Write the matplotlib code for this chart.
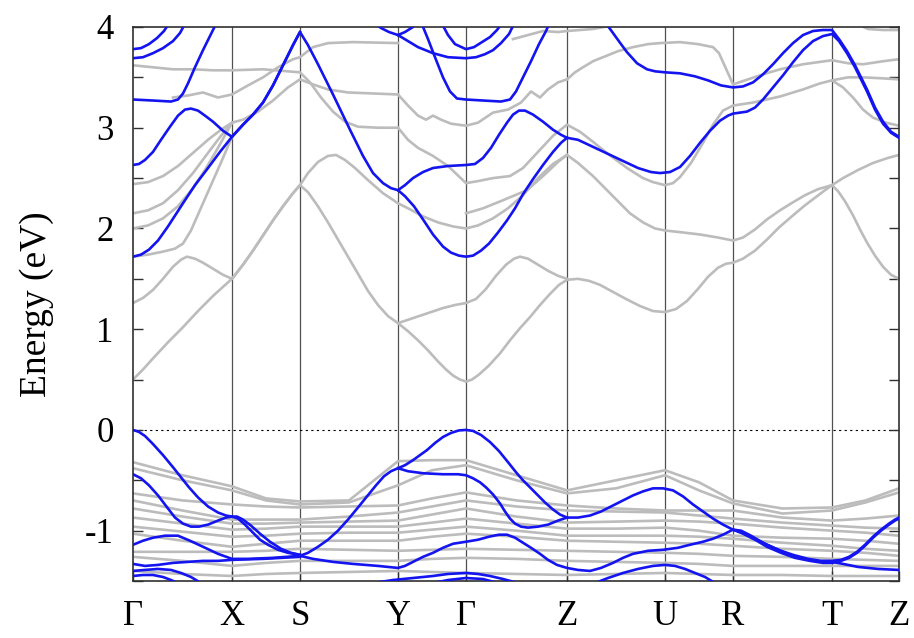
import numpy as np
import matplotlib
matplotlib.use("Agg")
import matplotlib.pyplot as plt

plt.rcParams["font.family"] = ["Liberation Serif", "DejaVu Serif"]
plt.rcParams["axes.unicode_minus"] = False

# high-symmetry points along the path (cumulative k-distance)
kpath_labels = ["Γ", "X", "S", "Y", "Γ", "Z", "U", "R", "T", "Z"]
kpath_ticks = [0, 99, 167, 265, 333, 434, 532, 600, 699, 766]

# highlighted bands, as (k, E) pairs
blue_cond = [
    [(0, 1.72), (8, 1.74), (16, 1.79), (25, 1.88), (35, 2.02), (50, 2.25), (62, 2.43), (75, 2.6),
     (87, 2.76), (99, 2.91), (110, 3.03), (120, 3.13), (130, 3.25), (140, 3.42), (150, 3.62),
     (160, 3.82), (167, 3.95), (175, 3.82), (185, 3.63), (200, 3.33), (217, 2.98), (230, 2.72),
     (240, 2.55), (250, 2.45), (258, 2.4), (265, 2.38), (272, 2.32), (281, 2.22), (290, 2.09),
     (300, 1.94), (310, 1.82), (318, 1.76), (326, 1.73), (333, 1.72), (340, 1.73), (348, 1.78),
     (356, 1.85), (365, 1.96), (374, 2.08), (382, 2.2), (390, 2.34), (400, 2.49), (410, 2.63),
     (420, 2.76), (428, 2.85), (434, 2.9)],
    [(0, 2.63), (6, 2.64), (12, 2.68), (20, 2.76), (28, 2.88), (37, 3.01), (45, 3.12), (52, 3.18),
     (58, 3.19), (65, 3.17), (72, 3.12), (80, 3.06), (90, 2.97), (99, 2.91), (110, 3.03),
     (120, 3.13), (130, 3.25), (140, 3.42), (150, 3.62), (160, 3.82), (167, 3.95)],
    [(0, 3.28), (20, 3.27), (38, 3.26), (45, 3.28), (50, 3.34), (55, 3.44), (62, 3.6), (70, 3.77),
     (78, 3.93), (84, 4.05)],
    [(0, 3.78), (8, 3.79), (16, 3.83), (24, 3.89), (31, 3.96), (37, 4.05)],
    [(0, 3.69), (10, 3.7), (20, 3.74), (30, 3.79), (40, 3.86), (47, 3.94), (53, 4.05)],
    [(265, 2.38), (272, 2.43), (280, 2.5), (290, 2.56), (300, 2.6), (315, 2.62), (333, 2.63),
     (342, 2.64), (350, 2.7), (358, 2.8), (366, 2.93), (374, 3.05), (380, 3.13), (386, 3.17),
     (392, 3.17), (400, 3.13), (410, 3.06), (420, 2.98), (428, 2.93), (434, 2.9)],
    [(288, 4.05), (295, 3.88), (302, 3.7), (310, 3.5), (317, 3.36), (324, 3.29), (333, 3.28),
     (350, 3.27), (368, 3.26), (377, 3.28), (383, 3.36), (390, 3.5), (398, 3.66), (406, 3.83),
     (413, 3.96), (417, 4.05)],
    [(240, 4.05), (248, 3.99), (256, 3.95), (265, 3.92), (275, 3.86), (285, 3.8), (300, 3.74),
     (315, 3.7), (333, 3.69), (343, 3.7), (352, 3.73), (360, 3.77), (368, 3.84), (376, 3.93),
     (382, 4.05)],
    [(308, 4.05), (315, 3.92), (322, 3.83), (333, 3.78), (341, 3.8), (349, 3.85), (357, 3.9),
     (364, 3.97), (370, 4.05)],
    [(265, 3.92), (272, 3.95), (280, 4.0), (285, 4.05)],
    [(434, 2.9), (445, 2.88), (460, 2.81), (475, 2.74), (490, 2.67), (505, 2.6), (518, 2.56),
     (527, 2.55), (537, 2.56), (547, 2.61), (557, 2.72), (567, 2.85), (577, 2.97), (587, 3.07),
     (595, 3.12), (600, 3.14), (607, 3.15), (614, 3.16), (622, 3.2), (630, 3.28), (640, 3.4),
     (650, 3.52), (660, 3.65), (670, 3.77), (680, 3.86), (690, 3.91), (699, 3.93), (706, 3.86),
     (714, 3.74), (722, 3.6), (734, 3.36), (742, 3.18), (750, 3.04), (758, 2.95), (766, 2.9)],
    [(472, 4.05), (480, 3.94), (488, 3.83), (494, 3.75), (504, 3.64), (514, 3.58), (522, 3.56),
     (532, 3.55), (547, 3.54), (562, 3.51), (575, 3.47), (588, 3.42), (600, 3.4), (610, 3.41),
     (620, 3.45), (630, 3.53), (640, 3.63), (650, 3.74), (660, 3.84), (670, 3.92), (680, 3.96),
     (690, 3.97), (699, 3.97), (706, 3.88), (714, 3.76), (722, 3.62), (734, 3.38), (742, 3.2),
     (750, 3.06), (758, 2.96), (766, 2.91)],
]

blue_val = [
    [(0, 0.0), (6, -0.02), (12, -0.06), (20, -0.14), (30, -0.25), (40, -0.37), (48, -0.47),
     (56, -0.57), (65, -0.67), (75, -0.76), (85, -0.82), (93, -0.85), (99, -0.86), (105, -0.88),
     (112, -0.94), (120, -1.02), (127, -1.09), (135, -1.14), (145, -1.19), (155, -1.22),
     (167, -1.24)],
    [(0, -0.44), (8, -0.48), (16, -0.55), (25, -0.65), (35, -0.78), (42, -0.87), (50, -0.93),
     (58, -0.96), (66, -0.96), (75, -0.94), (85, -0.9), (93, -0.87), (99, -0.86), (104, -0.86),
     (110, -0.89), (118, -0.95), (127, -1.03), (137, -1.11), (148, -1.18), (158, -1.22),
     (167, -1.24)],
    [(0, -1.14), (10, -1.1), (20, -1.07), (32, -1.05), (45, -1.05), (57, -1.1), (70, -1.16),
     (85, -1.23), (99, -1.28), (115, -1.28), (140, -1.27), (167, -1.25), (175, -1.22),
     (185, -1.16), (195, -1.09), (205, -1.0), (215, -0.89), (225, -0.77), (234, -0.66),
     (243, -0.55), (251, -0.46), (258, -0.41), (265, -0.38), (272, -0.35), (280, -0.3),
     (287, -0.25), (294, -0.2), (302, -0.13), (310, -0.07), (318, -0.03), (326, -0.005),
     (333, 0.0), (340, -0.01), (348, -0.05), (357, -0.12), (366, -0.21), (375, -0.32),
     (383, -0.42), (390, -0.5), (398, -0.58), (405, -0.65), (412, -0.72), (420, -0.79),
     (427, -0.84), (434, -0.87), (445, -0.87), (457, -0.85), (468, -0.81), (480, -0.75),
     (490, -0.7), (500, -0.65), (510, -0.61), (520, -0.58), (530, -0.58), (540, -0.6),
     (550, -0.66), (560, -0.74), (570, -0.81), (580, -0.88), (590, -0.94), (600, -0.99),
     (610, -1.02), (620, -1.07), (634, -1.14), (648, -1.2), (660, -1.24), (675, -1.28),
     (688, -1.3), (699, -1.3), (708, -1.29), (716, -1.26), (724, -1.21), (732, -1.14),
     (740, -1.06), (748, -0.99), (756, -0.93), (762, -0.89), (766, -0.87)],
    [(167, -1.25), (180, -1.28), (200, -1.31), (220, -1.33), (245, -1.35), (265, -1.37),
     (272, -1.35), (280, -1.31), (290, -1.26), (300, -1.22), (310, -1.17), (320, -1.13),
     (333, -1.11), (345, -1.09), (356, -1.06), (366, -1.04), (374, -1.04), (382, -1.07),
     (390, -1.12), (398, -1.17), (407, -1.23), (415, -1.29), (424, -1.34), (434, -1.37),
     (445, -1.39), (457, -1.4), (468, -1.37), (480, -1.32), (490, -1.27), (500, -1.23),
     (515, -1.2), (530, -1.19), (545, -1.17), (557, -1.14), (570, -1.11), (580, -1.08),
     (590, -1.04), (600, -0.99), (608, -1.0), (618, -1.05), (630, -1.12), (645, -1.19),
     (660, -1.25), (675, -1.29), (690, -1.31), (699, -1.31), (710, -1.33), (725, -1.36),
     (745, -1.38), (766, -1.39)],
    [(265, -0.38), (275, -0.41), (290, -0.43), (310, -0.44), (325, -0.44), (333, -0.45),
     (340, -0.48), (347, -0.52), (353, -0.57), (360, -0.64), (367, -0.73), (372, -0.81),
     (377, -0.88), (382, -0.93), (388, -0.96), (395, -0.97), (405, -0.96), (415, -0.94),
     (425, -0.9), (434, -0.87)],
    [(600, -0.99), (610, -1.03), (622, -1.09), (634, -1.16), (648, -1.22), (662, -1.27),
     (677, -1.3), (690, -1.32), (699, -1.32), (708, -1.3), (716, -1.27), (724, -1.22),
     (732, -1.15), (740, -1.07), (748, -1.0), (756, -0.94), (762, -0.9), (766, -0.88)],
    [(0, -1.33), (12, -1.35), (25, -1.34), (40, -1.32), (55, -1.31), (70, -1.3), (85, -1.3),
     (99, -1.29), (130, -1.28), (167, -1.26)],
    [(0, -1.4), (12, -1.39), (25, -1.38), (38, -1.39), (48, -1.42), (58, -1.46), (68, -1.52)],
    [(0, -1.45), (10, -1.44), (20, -1.44), (30, -1.46), (38, -1.49), (45, -1.52)],
    [(240, -1.52), (260, -1.49), (280, -1.47), (300, -1.45), (315, -1.43), (333, -1.42),
     (345, -1.43), (357, -1.45), (370, -1.48), (385, -1.52)],
    [(300, -1.52), (315, -1.49), (333, -1.47), (350, -1.48), (365, -1.52)],
    [(462, -1.52), (475, -1.47), (490, -1.42), (505, -1.38), (520, -1.35), (532, -1.34),
     (542, -1.35), (552, -1.38), (562, -1.42), (572, -1.46), (582, -1.52)],
]

gray_cond = [
    [(0, 0.5), (10, 0.6), (20, 0.71), (35, 0.87), (50, 1.02), (65, 1.18), (80, 1.33), (90, 1.42),
     (99, 1.5), (110, 1.64), (120, 1.78), (130, 1.93), (140, 2.08), (150, 2.22), (160, 2.35),
     (167, 2.43), (175, 2.36), (185, 2.22), (195, 2.06), (205, 1.89), (215, 1.72), (225, 1.55),
     (235, 1.38), (245, 1.24), (255, 1.13), (265, 1.06), (275, 0.98), (285, 0.89), (295, 0.79),
     (305, 0.68), (313, 0.6), (320, 0.54), (327, 0.5), (333, 0.48), (339, 0.5), (346, 0.55),
     (356, 0.64), (367, 0.76), (377, 0.89), (387, 1.01), (397, 1.12), (407, 1.24), (417, 1.35),
     (426, 1.44), (434, 1.49), (445, 1.5), (456, 1.48), (467, 1.44), (480, 1.37), (493, 1.3),
     (507, 1.23), (520, 1.18), (532, 1.17), (543, 1.2), (554, 1.28), (565, 1.4), (575, 1.52),
     (585, 1.61), (593, 1.65), (600, 1.66), (610, 1.7), (622, 1.78), (634, 1.89), (646, 2.01),
     (660, 2.13), (672, 2.23), (684, 2.32), (692, 2.38), (699, 2.43), (705, 2.37), (712, 2.27),
     (720, 2.13), (727, 1.99), (734, 1.86), (742, 1.73), (750, 1.62), (758, 1.54), (766, 1.5)],
    [(0, 1.26), (10, 1.31), (20, 1.39), (30, 1.5), (40, 1.62), (48, 1.69), (54, 1.72), (62, 1.7),
     (70, 1.66), (80, 1.6), (90, 1.54), (99, 1.5), (110, 1.64), (120, 1.78), (130, 1.93),
     (140, 2.08), (150, 2.22), (160, 2.35), (167, 2.43), (175, 2.55), (185, 2.66), (195, 2.72),
     (203, 2.73), (212, 2.68), (222, 2.6), (235, 2.48), (250, 2.35), (265, 2.25), (275, 2.2),
     (290, 2.12), (305, 2.06), (320, 2.02), (333, 2.0), (345, 2.03), (360, 2.1), (375, 2.2),
     (390, 2.33), (405, 2.5), (420, 2.64), (434, 2.73), (445, 2.65), (460, 2.52), (472, 2.4),
     (484, 2.28), (497, 2.15), (510, 2.06), (522, 2.0), (532, 1.98), (550, 1.96), (567, 1.94),
     (585, 1.91), (600, 1.88), (610, 1.91), (622, 1.99), (634, 2.09), (647, 2.18), (660, 2.26),
     (672, 2.33), (685, 2.39), (699, 2.43), (710, 2.5), (725, 2.58), (740, 2.65), (755, 2.7),
     (766, 2.73)],
    [(265, 1.06), (280, 1.11), (295, 1.16), (310, 1.21), (322, 1.24), (333, 1.26), (343, 1.3),
     (353, 1.4), (363, 1.53), (373, 1.64), (381, 1.7), (387, 1.72), (395, 1.7), (405, 1.64),
     (415, 1.58), (425, 1.53), (434, 1.5)],
    [(0, 1.72), (15, 1.74), (30, 1.77), (42, 1.8), (50, 1.85), (58, 1.98), (66, 2.16),
     (74, 2.34), (82, 2.52), (90, 2.7), (99, 2.91)],
    [(0, 2.0), (15, 2.03), (30, 2.1), (45, 2.22), (60, 2.4), (72, 2.58), (85, 2.8), (99, 3.05),
     (110, 3.08), (125, 3.16), (140, 3.27), (155, 3.4), (167, 3.48), (180, 3.43), (195, 3.38),
     (215, 3.35), (240, 3.34), (265, 3.33)],
    [(0, 2.15), (15, 2.18), (30, 2.25), (45, 2.38), (60, 2.55), (75, 2.75), (88, 2.92),
     (99, 3.05)],
    [(0, 2.44), (15, 2.46), (30, 2.52), (45, 2.62), (60, 2.75), (75, 2.88), (88, 2.98),
     (99, 3.05)],
    [(0, 3.62), (20, 3.6), (40, 3.58), (60, 3.58), (80, 3.57), (99, 3.57), (130, 3.58),
     (167, 3.55), (177, 3.45), (188, 3.3), (200, 3.16), (212, 3.06), (225, 3.01), (245, 3.0),
     (265, 3.0)],
    [(40, 3.3), (55, 3.32), (70, 3.35), (85, 3.3), (99, 3.33), (115, 3.42), (130, 3.5),
     (145, 3.6), (160, 3.68), (167, 3.7), (180, 3.8), (195, 3.84), (220, 3.85), (265, 3.84)],
    [(265, 3.33), (275, 3.22), (285, 3.12), (293, 3.08), (300, 3.12), (308, 3.08), (318, 3.04),
     (333, 3.02), (345, 3.05), (360, 3.15), (375, 3.18), (388, 3.25), (398, 3.36), (407, 3.3),
     (415, 3.38), (425, 3.45), (434, 3.48)],
    [(265, 3.0), (275, 2.88), (285, 2.8), (300, 2.72), (315, 2.62), (333, 2.45), (345, 2.47),
     (360, 2.5), (377, 2.52), (390, 2.6), (405, 2.76), (420, 2.92), (434, 3.03), (447, 2.96),
     (460, 2.86), (475, 2.74), (494, 2.6), (510, 2.5), (520, 2.46), (532, 2.43), (540, 2.45),
     (547, 2.51), (558, 2.65), (570, 2.85), (580, 3.03), (590, 3.17), (600, 3.22), (620, 3.25),
     (647, 3.31), (670, 3.38), (687, 3.44), (699, 3.47), (710, 3.4), (720, 3.3), (730, 3.18),
     (740, 3.1), (753, 3.05), (766, 3.02)],
    [(333, 2.15), (350, 2.2), (370, 2.28), (394, 2.38), (410, 2.52), (425, 2.66), (434, 2.73)],
    [(434, 3.48), (442, 3.55), (450, 3.6), (460, 3.66), (470, 3.7), (485, 3.76), (500, 3.8),
     (515, 3.83), (527, 3.84), (547, 3.85), (565, 3.83), (580, 3.8), (586, 3.74), (591, 3.63),
     (596, 3.52), (600, 3.43), (615, 3.48), (630, 3.53), (647, 3.58), (670, 3.63), (699, 3.67),
     (715, 3.64), (730, 3.63), (750, 3.66), (766, 3.68)],
    [(699, 3.47), (715, 3.5), (730, 3.5), (750, 3.49), (766, 3.48)],
    [(380, 3.88), (395, 3.92), (410, 3.96), (425, 3.95), (434, 3.96), (460, 3.98), (500, 4.05)],
    [(720, 4.05), (735, 3.98), (750, 3.97), (766, 3.97)],
]

# mostly flat valence bands: energies at the high-symmetry points and segment midpoints
gray_val = [
    [-0.32, -0.45, -0.56, -0.68, -0.71, -0.7, -0.31, -0.3, -0.3, -0.45, -0.6, -0.5, -0.4, -0.52, -0.7, -0.78, -0.77, -0.7, -0.58],
    [-0.38, -0.5, -0.6, -0.7, -0.74, -0.72, -0.55, -0.4, -0.35, -0.5, -0.63, -0.58, -0.45, -0.6, -0.73, -0.83, -0.8, -0.72, -0.62],
    [-0.63, -0.7, -0.74, -0.76, -0.77, -0.76, -0.75, -0.68, -0.62, -0.7, -0.75, -0.78, -0.8, -0.8, -0.8, -0.87, -0.9, -0.88, -0.85],
    [-0.7, -0.8, -0.89, -0.89, -0.89, -0.86, -0.82, -0.76, -0.7, -0.76, -0.8, -0.81, -0.82, -0.85, -0.88, -0.92, -0.95, -0.97, -0.98],
    [-0.78, -0.86, -0.93, -0.93, -0.92, -0.91, -0.9, -0.84, -0.78, -0.86, -0.92, -0.91, -0.9, -0.91, -0.93, -0.97, -1.0, -1.02, -1.05],
    [-0.87, -0.93, -0.99, -0.98, -0.96, -0.96, -0.96, -0.92, -0.88, -0.93, -0.98, -0.98, -0.97, -1.0, -1.05, -1.07, -1.08, -1.1, -1.13],
    [-0.96, -1.01, -1.06, -1.05, -1.03, -1.02, -1.02, -0.99, -0.96, -1.0, -1.05, -1.05, -1.05, -1.06, -1.08, -1.12, -1.15, -1.18, -1.2],
    [-1.03, -1.1, -1.16, -1.13, -1.1, -1.1, -1.1, -1.06, -1.03, -1.06, -1.1, -1.11, -1.12, -1.13, -1.15, -1.18, -1.2, -1.22, -1.25],
    [-1.21, -1.21, -1.21, -1.2, -1.18, -1.19, -1.2, -1.19, -1.18, -1.19, -1.2, -1.21, -1.22, -1.23, -1.25, -1.26, -1.28, -1.29, -1.3],
    [-1.26, -1.3, -1.35, -1.32, -1.3, -1.3, -1.3, -1.28, -1.27, -1.28, -1.3, -1.31, -1.32, -1.33, -1.35, -1.35, -1.35, -1.35, -1.35],
    [-1.4, -1.43, -1.45, -1.43, -1.42, -1.41, -1.4, -1.41, -1.42, -1.43, -1.44, -1.43, -1.42, -1.43, -1.44, -1.44, -1.45, -1.45, -1.45],
]

grid_k = []
for a, b in zip(kpath_ticks[:-1], kpath_ticks[1:]):
    grid_k += [a, (a + b) / 2]
grid_k.append(kpath_ticks[-1])

GRAY = "#bcbcbc"
BLUE = "#1414f0"

fig = plt.figure(figsize=(9.14, 6.38), dpi=100)
ax = fig.add_axes([0.1455, 0.0893, 0.8381, 0.8684])

for band in gray_cond:
    k, e = zip(*band)
    ax.plot(k, e, color=GRAY, lw=1.9, solid_joinstyle="round", zorder=2)
for e in gray_val:
    ax.plot(grid_k, e, color=GRAY, lw=1.9, solid_joinstyle="round", zorder=2)
for band in blue_cond + blue_val:
    k, e = zip(*band)
    ax.plot(k, e, color=BLUE, lw=1.9, solid_joinstyle="round", zorder=3)

for kx in kpath_ticks[1:-1]:
    ax.axvline(kx, color="#505050", lw=0.9, zorder=1)
ax.axhline(0, color="black", lw=0.8, ls=(0, (2, 3)), zorder=1)

ax.set_xlim(kpath_ticks[0], kpath_ticks[-1])
ax.set_ylim(-1.5, 4)
ax.set_xticks(kpath_ticks)
ax.set_xticklabels(kpath_labels)
ax.set_yticks([-1, 0, 1, 2, 3, 4])
ax.set_yticks(np.arange(-1.5, 4.01, 0.5), minor=True)
ax.tick_params(axis="both", which="both", direction="in", length=7, width=1.0,
               color="#303030", labelsize=25)
ax.tick_params(axis="y", which="both", right=True)
ax.tick_params(axis="y", pad=14)
ax.tick_params(axis="x", pad=14)
ax.set_ylabel("Energy (eV)", fontsize=27, labelpad=22)
for s in ax.spines.values():
    s.set_color("#303030")
    s.set_linewidth(1.2)

fig.savefig("out.png", dpi=100)
